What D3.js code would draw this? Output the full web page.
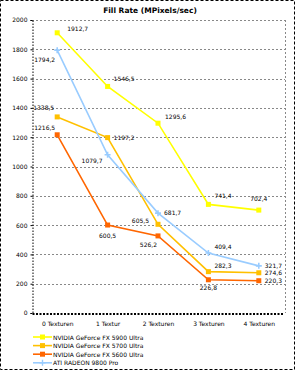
<!DOCTYPE html>
<html>
<head>
<meta charset="utf-8">
<script src="https://cdn.jsdelivr.net/npm/d3@7"></script>
<style>
  body { margin: 0; background: #fff; }
  svg { display: block; font-family: "DejaVu Sans", sans-serif; }
</style>
</head>
<body>
<svg id="chart" width="297" height="371"></svg>
<script>
const categories = ["0 Texturen", "1 Textur", "2 Texturen", "3 Texturen", "4 Texturen"];
const seriesNames = [
  "NVIDIA GeForce FX 5900 Ultra",
  "NVIDIA GeForce FX 5700 Ultra",
  "NVIDIA GeForce FX 5600 Ultra",
  "ATI RADEON 9800 Pro"
];
const fx5900 = [1912.7, 1546.5, 1295.6, 741.4, 702.4];
const fx5700 = [1338.5, 1197.2, 605.5, 282.3, 274.6];
const fx5600 = [1216.5, 600.5, 526.2, 226.8, 220.3];
const r9800 = [1794.2, 1079.7, 681.7, 409.4, 321.7];
const yTicks = [0, 200, 400, 600, 800, 1000, 1200, 1400, 1600, 1800, 2000];

const colors = ["#ffff00", "#ffc000", "#ff6600", "#99ccff"];
// label offsets (dx, dy, anchor) per series / point
const labelPos = [
  [[10, -2, "start"], [6, -5, "start"], [7, -4, "start"], [6, -6, "start"], [0, -9, "middle"]],
  [[-3, -7, "end"], [6, 2, "start"], [-9, -1, "end"], [6, -4, "start"], [6, 2, "start"]],
  [[-2, -5, "end"], [0, 13, "middle"], [-1, 11, "end"], [0, 10, "middle"], [6, 2, "start"]],
  [[-2, 12, "end"], [-5, 8, "end"], [6, 2, "start"], [6, -4, "start"], [6, 2, "start"]]
];

const allSeries = [fx5900, fx5700, fx5600, r9800];

const svg = d3.select("#chart");
const mLeft = 32, mRight = 284, mTop = 20, mBottom = 313;

const x = d3.scalePoint().domain(categories).range([mLeft, mRight]).padding(0.5);
const y = d3.scaleLinear().domain([0, 2000]).range([mBottom, mTop]);

// outer frame
svg.append("rect")
  .attr("x", 0.5).attr("y", 0.5).attr("width", 294).attr("height", 369)
  .attr("fill", "none").attr("stroke", "#000").attr("stroke-dasharray", "3,2");

svg.append("text")
  .attr("x", 150).attr("y", 13)
  .attr("text-anchor", "middle")
  .attr("font-size", 7.5).attr("font-weight", "bold")
  .text("Fill Rate (MPixels/sec)");

// grid
svg.append("g")
  .selectAll("line")
  .data(yTicks.filter(d => d > 0))
  .join("line")
  .attr("x1", mLeft).attr("x2", mRight + 1)
  .attr("y1", d => Math.round(y(d)) + 0.5).attr("y2", d => Math.round(y(d)) + 0.5)
  .attr("stroke", "#888").attr("stroke-dasharray", "2,2");

svg.append("line")
  .attr("x1", mRight + 1.5).attr("x2", mRight + 1.5).attr("y1", mTop).attr("y2", mBottom)
  .attr("stroke", "#888").attr("stroke-dasharray", "2,2");

// axes
const yAxis = d3.axisLeft(y).tickValues(yTicks).tickFormat(d3.format("d")).tickSize(2).tickPadding(3);
const gy = svg.append("g").attr("transform", `translate(${mLeft + 0.5},0)`).call(yAxis);
gy.select(".domain").attr("stroke-dasharray", "1.5,1.5");
gy.selectAll("text").attr("font-size", 6).attr("font-family", "DejaVu Sans");

const xAxis = d3.axisBottom(x).tickSize(0).tickPadding(8);
const gx = svg.append("g").attr("transform", `translate(0,${mBottom + 0.5})`).call(xAxis);
gx.select(".domain").attr("stroke-width", 2).attr("stroke-dasharray", "2,1.5");
gx.selectAll("text").attr("font-size", 6).attr("font-family", "DejaVu Sans");

// series
const line = d3.line().x((d, i) => x(categories[i])).y(d => y(d));

allSeries.forEach((vals, s) => {
  const g = svg.append("g");
  g.append("path")
    .datum(vals)
    .attr("d", line)
    .attr("fill", "none")
    .attr("stroke", colors[s])
    .attr("stroke-width", 1.6);

  if (s === 3) {
    g.selectAll(".mk")
      .data(vals)
      .join("path")
      .attr("transform", (d, i) => `translate(${x(categories[i])},${y(d)})`)
      .attr("d", "M-3,0H3M0,-3V3")
      .attr("stroke", colors[s]).attr("stroke-width", 1.6);
  } else {
    g.selectAll(".mk")
      .data(vals)
      .join("rect")
      .attr("x", (d, i) => x(categories[i]) - 2.5)
      .attr("y", d => y(d) - 2.5)
      .attr("width", 5).attr("height", 5)
      .attr("fill", colors[s]);
  }

  g.selectAll(".lbl")
    .data(vals)
    .join("text")
    .attr("x", (d, i) => x(categories[i]) + labelPos[s][i][0])
    .attr("y", (d, i) => y(d) + labelPos[s][i][1])
    .attr("text-anchor", (d, i) => labelPos[s][i][2])
    .attr("font-size", 6)
    .text(d => d3.format(".1f")(d).replace(".", ","));
});

// legend
const legend = svg.append("g")
  .selectAll("g")
  .data(seriesNames)
  .join("g")
  .attr("transform", (d, i) => `translate(33,${337 + i * 8.6})`);

legend.append("line")
  .attr("x1", 0).attr("x2", 19).attr("y1", 0).attr("y2", 0)
  .attr("stroke", (d, i) => colors[i]).attr("stroke-width", 1.6);
legend.append("rect")
  .attr("x", 7).attr("y", -2.5).attr("width", 5).attr("height", 5)
  .attr("fill", (d, i) => i === 3 ? "none" : colors[i]);
legend.filter((d, i) => i === 3).append("path")
  .attr("d", "M6.5,0H12.5M9.5,-3V3")
  .attr("stroke", colors[3]).attr("stroke-width", 1.4);
legend.append("text")
  .attr("x", 20).attr("y", 2.5)
  .attr("font-size", 6)
  .text(d => d);
</script>
</body>
</html>
